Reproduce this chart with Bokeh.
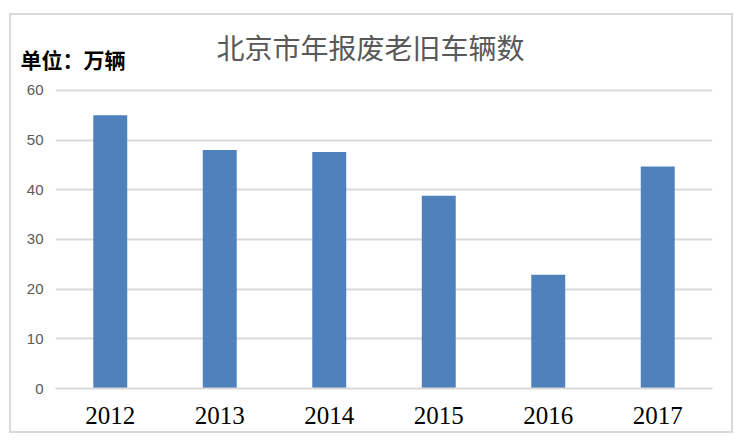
from bokeh.plotting import figure
from bokeh.models import Range1d, FixedTicker, Title, ColumnDataSource
from bokeh.embed import file_html
from bokeh.resources import INLINE

title_text = "北京市年报废老旧车辆数"
unit_text = "单位：万辆"
years = ["2012", "2013", "2014", "2015", "2016", "2017"]
counts = [55.0, 48.0, 47.6, 38.8, 22.9, 44.7]
y_ticks = [0, 10, 20, 30, 40, 50, 60]

source = ColumnDataSource(data=dict(year=years, count=counts))

p = figure(x_range=years, y_range=Range1d(0, 60.4), width=724, height=420,
           output_backend="svg", toolbar_location=None,
           min_border_left=44, min_border_right=23, min_border_top=73, min_border_bottom=47)
p.styles = {"border": "2px solid #d9d9d9", "box-sizing": "border-box",
            "margin-top": "13px", "margin-left": "9px"}
p.title.visible = False

p.vbar(x="year", top="count", width=0.31, source=source,
       fill_color="#4F81BD", line_color=None)

p.outline_line_color = None
p.background_fill_color = "white"
p.border_fill_color = "white"

p.xgrid.grid_line_color = None
p.ygrid.grid_line_color = "#d9d9d9"
p.ygrid.grid_line_width = 2
p.yaxis.ticker = FixedTicker(ticks=y_ticks)

p.yaxis.axis_line_color = None
p.yaxis.major_tick_line_color = None
p.yaxis.minor_tick_line_color = None
p.yaxis.major_tick_out = 0
p.yaxis.major_label_text_font = "Liberation Sans"
p.yaxis.major_label_text_font_size = "15px"
p.yaxis.major_label_text_color = "#595959"
p.yaxis.major_label_standoff = 12

p.xaxis.axis_line_color = "#d9d9d9"
p.xaxis.axis_line_width = 2
p.xaxis.major_tick_line_color = None
p.xaxis.minor_tick_line_color = None
p.xaxis.major_label_text_font = "Liberation Serif"
p.xaxis.major_label_text_font_size = "25px"
p.xaxis.major_label_text_color = "#000000"
p.xaxis.major_label_standoff = 12

unit_title = Title(text=unit_text, align="left", offset=-35, standoff=30,
                   text_font="Noto Sans CJK SC", text_font_size="21px",
                   text_font_style="bold", text_color="#000000")
main_title = Title(text=title_text, align="left", offset=161, standoff=-81,
                   text_font="Noto Sans CJK SC", text_font_size="28px",
                   text_font_style="normal", text_color="#595959")
p.add_layout(unit_title, "above")
p.add_layout(main_title, "above")

open("out.html", "w").write(file_html(p, INLINE))
